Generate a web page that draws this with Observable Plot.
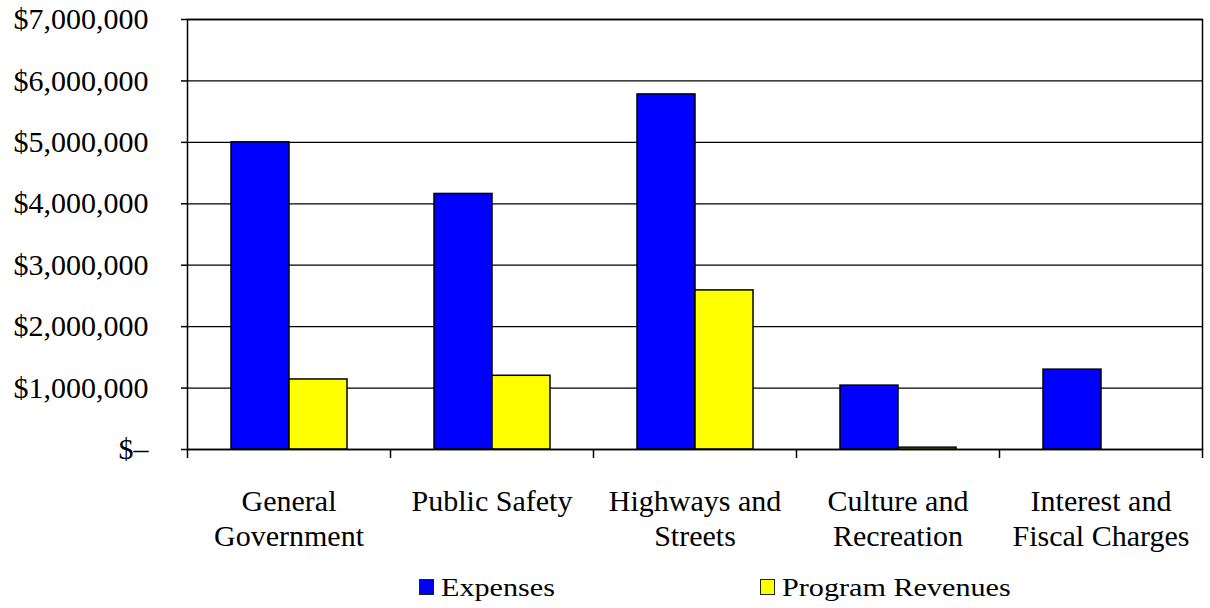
<!DOCTYPE html>
<html><head><meta charset="utf-8">
<script src="https://cdn.jsdelivr.net/npm/d3@7"></script>
<script src="https://cdn.jsdelivr.net/npm/@observablehq/plot@0.6"></script>
<style>
body{margin:0;background:#fff;font-family:"Liberation Serif","Times New Roman",serif;}
#wrap{position:relative;width:1210px;height:608px;overflow:hidden;background:#fff;}
#legend{position:absolute;left:0;top:560px;width:1210px;height:48px;}
.sw{position:absolute;top:19px;width:13px;height:14px;border:1px solid #222;}
.lt{position:absolute;top:10px;font-size:26px;line-height:36px;transform:scaleX(1.16);transform-origin:left center;white-space:nowrap;color:#000;}
</style></head><body><div id="wrap"></div>
<script>
const categories = ["General Government", "Public Safety", "Highways and Streets", "Culture and Recreation", "Interest and Fiscal Charges"];
const tickLabels = ["General\nGovernment", "Public Safety", "Highways and\nStreets", "Culture and\nRecreation", "Interest and\nFiscal Charges"];
const seriesNames = ["Expenses", "Program Revenues"];
const seriesColors = ["#0000FF", "#FFFF00"];
const expenses = [5000000, 4160000, 5780000, 1040000, 1300000];
const programRevenues = [1140000, 1200000, 2590000, 30000, 0];
const yTicks = [0, 1000000, 2000000, 3000000, 4000000, 5000000, 6000000, 7000000];

const rows = categories.map((c, i) => ({category: c, label: tickLabels[i], expenses: expenses[i], revenues: programRevenues[i]}));

const W = 1210, H = 560, mL = 187, mR = 8, mT = 19, mB = 111;
const bw = (W - mL - mR) / categories.length;
const outer = 44, barW = 58;

const yFmt = d => d === 0 ? "$\u2013" : "$" + d3.format(",")(d);

const chart = Plot.plot({
  width: W, height: H,
  marginLeft: mL, marginRight: mR, marginTop: mT, marginBottom: mB,
  style: {fontFamily: '"Liberation Serif","Times New Roman",serif', fontSize: "30px", color: "#000", background: "#fff", overflow: "visible"},
  x: {domain: categories, padding: 0, axis: null},
  y: {domain: [0, 7000000], axis: null},
  marks: [
    Plot.gridY(yTicks, {stroke: "#000", strokeOpacity: 1, strokeWidth: 1.3}),
    Plot.barY(rows, {x: "category", y: "expenses", fill: seriesColors[0], stroke: "#000", strokeWidth: 1.5, insetLeft: outer, insetRight: bw - outer - barW}),
    Plot.barY(rows, {filter: d => d.revenues > 0, x: "category", y: "revenues", fill: seriesColors[1], stroke: "#000", strokeWidth: 1.5, insetLeft: outer + barW, insetRight: bw - outer - 2 * barW}),
    Plot.axisY({ticks: yTicks, tickFormat: yFmt, tickSize: 6, tickPadding: 33, strokeWidth: 1.5, fontSize: 30}),
    Plot.frame({stroke: "#000", strokeWidth: 1.5}),
    Plot.ruleX(categories, {x: d => d, dx: -bw / 2, y1: 0, y2: 0, insetBottom: -9, stroke: "#000", strokeWidth: 1.5}),
    Plot.ruleX([categories[categories.length - 1]], {x: d => d, dx: bw / 2, y1: 0, y2: 0, insetBottom: -9, stroke: "#000", strokeWidth: 1.5}),
    Plot.text(rows, {x: "category", y: 0, text: "label", lineAnchor: "top", dy: 36, lineHeight: 1.18, fontSize: 30, fill: "#000"})
  ]
});

const wrap = document.getElementById("wrap");
wrap.appendChild(chart);

const legend = document.createElement("div");
legend.id = "legend";
const legendPos = [{sw: 419, tx: 441}, {sw: 760, tx: 782}];
seriesNames.forEach((name, i) => {
  const sw = document.createElement("div");
  sw.className = "sw";
  sw.style.left = legendPos[i].sw + "px";
  sw.style.background = seriesColors[i];
  const t = document.createElement("div");
  t.className = "lt";
  t.style.left = legendPos[i].tx + "px";
  t.textContent = name;
  legend.appendChild(sw);
  legend.appendChild(t);
});
wrap.appendChild(legend);
</script></body></html>
